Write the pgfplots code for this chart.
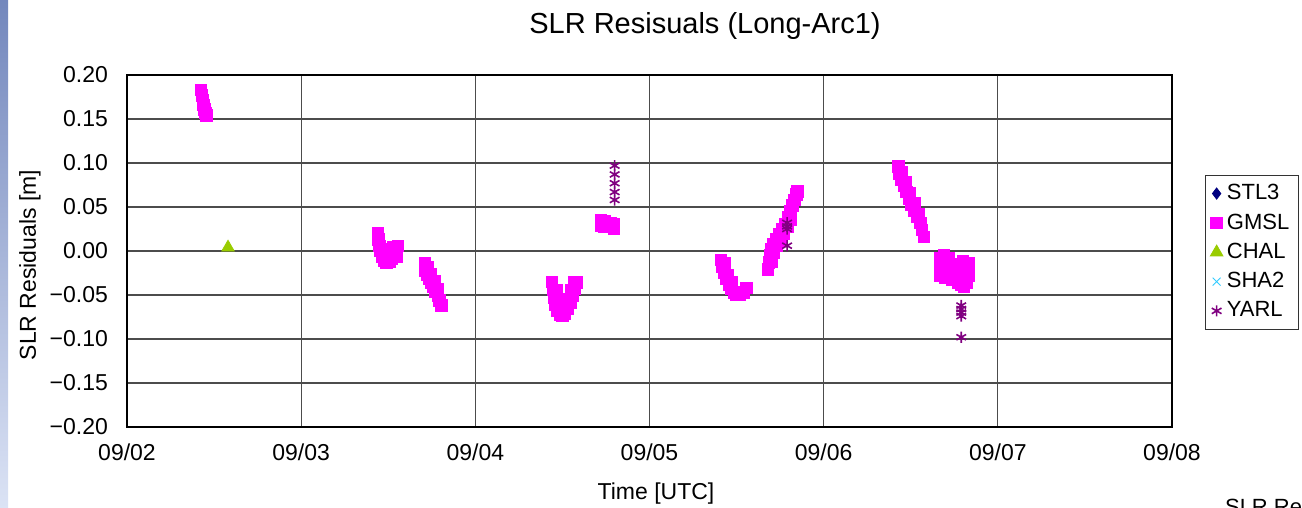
\documentclass[border=0pt]{standalone}
\usepackage{pgfplots}
\pgfplotsset{compat=1.18}
\usepackage{fontspec}
\setmainfont{Liberation Sans}
\definecolor{gmsl}{RGB}{255,0,255}
\definecolor{chal}{RGB}{153,204,0}
\definecolor{yarl}{RGB}{128,0,128}
\definecolor{stl}{RGB}{0,0,128}
\definecolor{sha}{RGB}{51,204,255}
\begin{document}
\begin{tikzpicture}
% page = 1302 x 508 px at 0.5pt per px
\useasboundingbox (0,0) rectangle (651pt,-254pt);
\shade[top color={rgb,1:red,0.45;green,0.53;blue,0.74}, bottom color={rgb,1:red,0.86;green,0.89;blue,0.96}] (0,0) rectangle (4pt,-254pt);
\node[font=\fontsize{14.5}{16}\selectfont] at (352.5pt,-13pt) {SLR Resisuals (Long-Arc1)};
\node[font=\fontsize{11.5}{13}\selectfont] at (328pt,-247pt) {Time [UTC]};
\node[font=\fontsize{11.5}{13}\selectfont, rotate=90] at (15pt,-132.5pt) {SLR Residuals [m]};
\node[font=\fontsize{11}{13}\selectfont, anchor=base west] at (609pt,-257pt) {SLR Resi};
\begin{axis}[
    at={(63.5pt,-213.5pt)}, anchor=south west,
    scale only axis, width=522.5pt, height=176pt,
    xmin=0, xmax=6, ymin=-0.2, ymax=0.2,
    xtick={0,1,2,3,4,5,6},
    xticklabels={09/02,09/03,09/04,09/05,09/06,09/07,09/08},
    ytick={-0.20,-0.15,-0.10,-0.05,0,0.05,0.10,0.15,0.20},
    yticklabels={−0.20,−0.15,−0.10,−0.05,0.00,0.05,0.10,0.15,0.20},
    tick label style={font=\fontsize{11.5}{13}\selectfont},
    xticklabel style={yshift=-5pt},
    yticklabel style={xshift=-6pt},
    major tick length=0pt,
    grid=major,
    major grid style={black!70, line width=0.6pt},
    axis line style={black, line width=0.6pt},
    clip=false,
    legend cell align=left,
    legend style={at={(1.0316,0.716)}, anchor=north west, draw=black!80,
        font=\fontsize{11}{13}\selectfont, row sep=1.5pt, inner sep=2.5pt},
]
\addlegendimage{only marks, mark=diamond*, mark size=2.8pt, color=stl}
\addlegendentry{STL3}
\addplot[only marks, mark=square*, mark size=2.9pt, color=gmsl] table {
x y
0.425 0.183
0.430 0.177
0.435 0.171
0.440 0.166
0.445 0.161
0.450 0.157
0.455 0.154
1.440 0.020
1.445 0.013
1.450 0.006
1.455 0.000
1.465 -0.006
1.475 -0.011
1.490 -0.013
1.505 -0.012
1.520 -0.009
1.535 -0.004
1.545 0.001
1.555 0.006
1.550 -0.006
1.470 0.002
1.490 -0.004
1.510 -0.002
1.530 0.004
1.710 -0.014
1.712 -0.022
1.722 -0.027
1.735 -0.031
1.748 -0.036
1.760 -0.041
1.772 -0.046
1.785 -0.051
1.795 -0.056
1.805 -0.062
1.725 -0.018
1.745 -0.026
1.765 -0.034
1.785 -0.043
2.440 -0.035
2.445 -0.044
2.450 -0.053
2.460 -0.061
2.470 -0.068
2.485 -0.072
2.500 -0.073
2.515 -0.071
2.530 -0.066
2.545 -0.059
2.560 -0.051
2.570 -0.043
2.580 -0.036
2.565 -0.036
2.465 -0.045
2.480 -0.058
2.505 -0.062
2.525 -0.055
2.550 -0.045
2.720 0.035
2.722 0.029
2.740 0.028
2.755 0.031
2.775 0.032
2.795 0.031
2.795 0.026
2.740 0.034
3.410 -0.010
3.418 -0.018
3.428 -0.025
3.440 -0.031
3.455 -0.038
3.470 -0.043
3.485 -0.047
3.500 -0.049
3.520 -0.049
3.540 -0.047
3.555 -0.042
3.430 -0.014
3.450 -0.027
3.470 -0.036
3.680 -0.021
3.685 -0.013
3.692 -0.005
3.700 0.002
3.712 0.008
3.728 0.013
3.745 0.019
3.762 0.025
3.780 0.031
3.795 0.038
3.808 0.045
3.820 0.052
3.832 0.058
3.845 0.064
3.850 0.068
3.700 -0.012
3.712 -0.002
3.730 0.006
3.750 0.012
3.772 0.020
3.795 0.028
3.812 0.036
4.430 0.096
4.435 0.088
4.445 0.081
4.460 0.074
4.475 0.067
4.490 0.060
4.505 0.053
4.520 0.046
4.538 0.039
4.555 0.032
4.565 0.024
4.575 0.016
4.450 0.090
4.470 0.078
4.495 0.066
4.520 0.054
4.545 0.042
4.670 -0.008
4.668 -0.018
4.668 -0.028
4.685 -0.012
4.700 -0.020
4.715 -0.013
4.730 -0.022
4.745 -0.015
4.760 -0.025
4.775 -0.018
4.790 -0.030
4.790 -0.038
4.805 -0.041
4.815 -0.022
4.830 -0.014
4.830 -0.028
4.820 -0.036
4.700 -0.030
4.740 -0.032
4.770 -0.036
4.690 -0.005
4.720 -0.008
4.800 -0.012
};
\addlegendentry{GMSL}
\addplot[only marks, mark=triangle*, mark size=3.6pt, color=chal] table {
x y
0.580 0.004
};
\addlegendentry{CHAL}
\addlegendimage{only marks, mark=x, mark size=2.8pt, color=sha}
\addlegendentry{SHA2}
\addplot[only marks, mark=asterisk, mark size=2.8pt, line width=0.8pt, color=yarl] table {
x y
2.800 0.097
2.800 0.087
2.800 0.077
2.800 0.067
2.800 0.058
3.790 0.032
3.790 0.028
3.790 0.025
3.790 0.006
4.790 -0.062
4.790 -0.066
4.790 -0.070
4.790 -0.074
4.790 -0.098
};
\addlegendentry{YARL}
\end{axis}
\end{tikzpicture}
\end{document}
